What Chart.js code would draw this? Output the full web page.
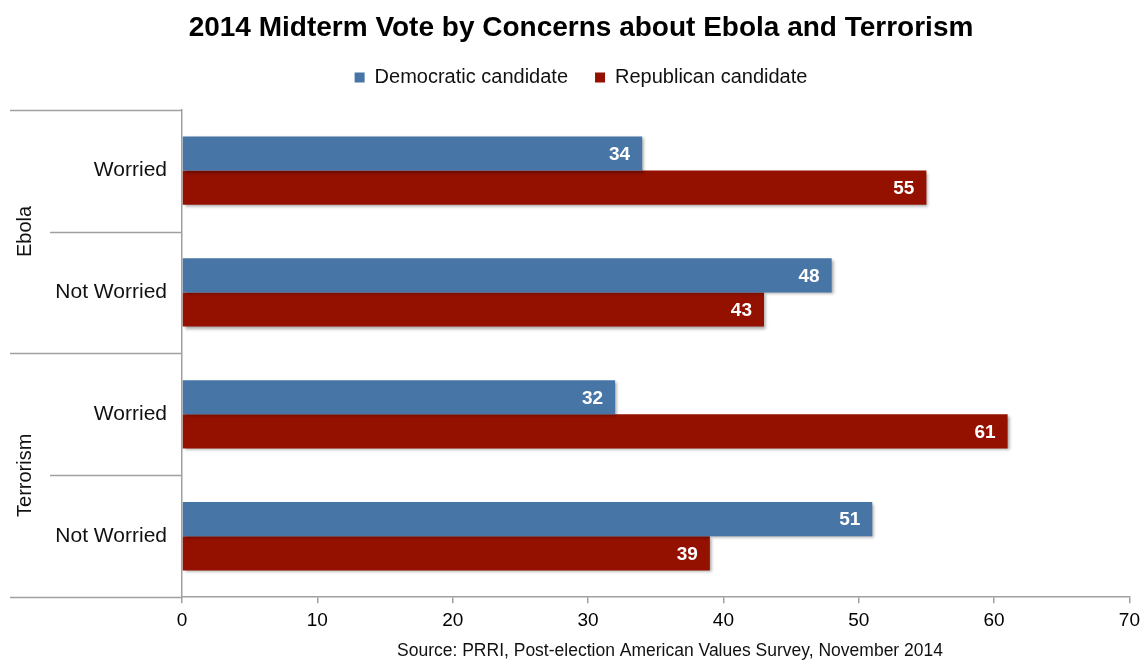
<!DOCTYPE html>
<html>
<head>
<meta charset="utf-8">
<script src="https://cdn.jsdelivr.net/npm/chart.js@4.4.1/dist/chart.umd.min.js"></script>
<style>
  html, body { margin: 0; padding: 0; background: #fff; }
  #wrap { width: 1146px; height: 660px; position: relative; }
</style>
</head>
<body>
<div id="wrap"><canvas id="c"></canvas></div>
<script>
/* ---- Data ---- */
const GROUPS = ["Ebola", "Terrorism"];
const LABELS = ["Worried", "Not Worried", "Worried", "Not Worried"];
const DEM = [34, 48, 32, 51];
const REP = [55, 43, 61, 39];
const X_MAX = 70;
const SOURCE = "Source: PRRI, Post-election American Values Survey, November 2014";

const FONT = '"Liberation Sans", Arial, Helvetica, sans-serif';
const BLUE = "#4775a6";
const RED = "#941100";
const AXIS = "#a0a0a0";

Chart.defaults.font.family = FONT;
Chart.defaults.color = "#111";

/* bar shadow + value labels inside bar ends */
const barDecor = {
  id: "barDecor",
  beforeDatasetsDraw(chart) {
    const ctx = chart.ctx;
    ctx.save();
    ctx.shadowColor = "rgba(0,0,0,0.35)";
    ctx.shadowBlur = 3;
    ctx.shadowOffsetX = 2;
    ctx.shadowOffsetY = 2;
  },
  afterDatasetsDraw(chart) {
    const ctx = chart.ctx;
    ctx.restore();
    ctx.save();
    ctx.fillStyle = "#fff";
    ctx.font = "bold 19px " + FONT;
    ctx.textAlign = "right";
    ctx.textBaseline = "middle";
    chart.data.datasets.forEach((ds, di) => {
      chart.getDatasetMeta(di).data.forEach((el, i) => {
        ctx.fillText(ds.data[i], el.x - 12, el.y + 1);
      });
    });
    ctx.restore();
  },
};

/* category separators, group labels, source line */
const groupAxis = {
  id: "groupAxis",
  afterDraw(chart) {
    const ctx = chart.ctx;
    const y = chart.scales.y;
    const area = chart.chartArea;
    const n = LABELS.length;
    const step = (y.getPixelForValue(1) - y.getPixelForValue(0));
    ctx.save();
    ctx.strokeStyle = AXIS;
    ctx.lineWidth = 1.5;
    for (let i = 0; i <= n; i++) {
      const py = Math.round(y.getPixelForValue(i) - step / 2) + 0.5;
      const isGroup = i % 2 === 0;
      ctx.beginPath();
      ctx.moveTo(isGroup ? 10 : 50, py);
      ctx.lineTo(area.left, py);
      ctx.stroke();
    }
    // group labels, rotated
    ctx.fillStyle = "#111";
    ctx.font = "20px " + FONT;
    ctx.textAlign = "center";
    ctx.textBaseline = "middle";
    GROUPS.forEach((g, gi) => {
      const cy = (y.getPixelForValue(gi * 2) + y.getPixelForValue(gi * 2 + 1)) / 2;
      ctx.save();
      ctx.translate(25, cy);
      ctx.rotate(-Math.PI / 2);
      ctx.fillText(g, 0, 0);
      ctx.restore();
    });
    // source
    ctx.font = "17.5px " + FONT;
    ctx.fillText(SOURCE, 670, 651);
    ctx.restore();
  },
};

new Chart(document.getElementById("c"), {
  type: "bar",
  data: {
    labels: LABELS,
    datasets: [
      { label: "Democratic candidate", data: DEM, backgroundColor: BLUE },
      { label: "Republican candidate", data: REP, backgroundColor: RED },
    ],
  },
  plugins: [barDecor, groupAxis],
  options: {
    indexAxis: "y",
    responsive: true,
    maintainAspectRatio: false,
    animation: false,
    layout: { padding: { left: 32, right: 16, top: 0, bottom: 22 } },
    datasets: { bar: { categoryPercentage: 0.56, barPercentage: 1 } },
    plugins: {
      title: {
        display: true,
        text: "2014 Midterm Vote by Concerns about Ebola and Terrorism",
        color: "#000",
        font: { size: 28, weight: "bold" },
        padding: { top: 11, bottom: -4 },
      },
      legend: {
        position: "top",
        labels: { boxWidth: 10, boxHeight: 10, padding: 27, color: "#111", font: { size: 20 } },
      },
      tooltip: { enabled: false },
    },
    scales: {
      x: {
        min: 0,
        max: X_MAX,
        ticks: { stepSize: 10, color: "#000", font: { size: 19 }, padding: 6 },
        grid: { drawOnChartArea: false, color: AXIS, tickLength: 6, lineWidth: 1.5 },
        border: { color: AXIS, width: 1.5 },
      },
      // empty spacer between legend and plot
      gap: {
        type: "linear",
        position: "top",
        afterFit: (s) => { s.height = 12; },
        ticks: { display: false },
        grid: { display: false },
        border: { display: false },
      },
      y: {
        afterFit: (s) => { s.width = 150; },
        ticks: { color: "#111", font: { size: 21 }, padding: 7 },
        grid: { display: false },
        border: { color: AXIS, width: 1.5 },
      },
    },
  },
});
</script>
</body>
</html>
